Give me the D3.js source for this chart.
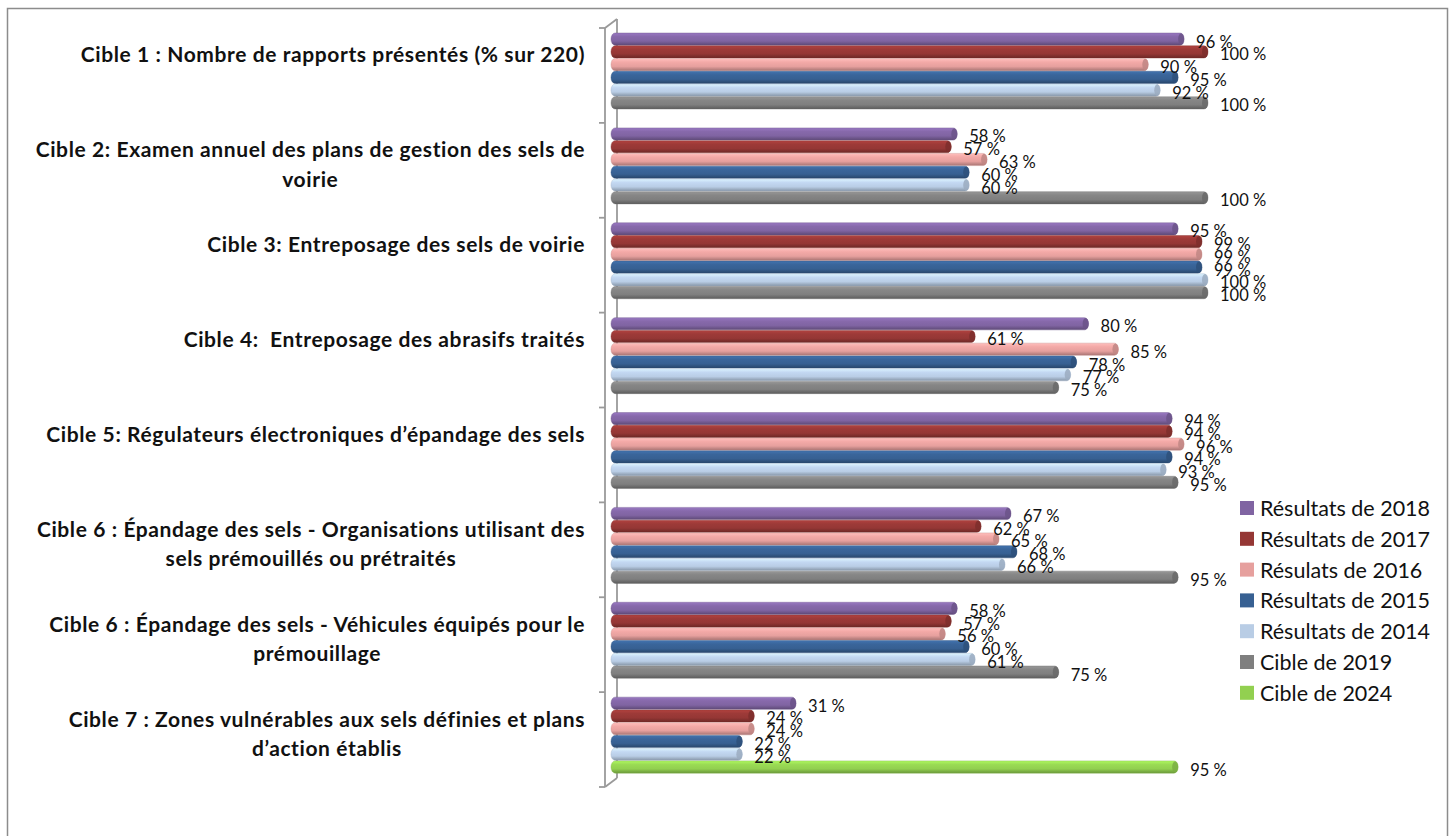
<!DOCTYPE html>
<html>
<head>
<meta charset="utf-8">
<script src="https://cdn.jsdelivr.net/npm/d3@7"></script>
<style>
  body { margin: 0; background: #fff; }
  svg text { font-family: Lato, "Open Sans", sans-serif; white-space: pre; }
</style>
</head>
<body>
<svg width="1455" height="836"></svg>
<script>
// Category labels (one entry per line of the wrapped label).
var categories = [
    ["Cible 1 : Nombre de rapports présentés (% sur 220)"],
    ["Cible 2: Examen annuel des plans de gestion des sels de", "voirie"],
    ["Cible 3: Entreposage des sels de voirie"],
    ["Cible 4:  Entreposage des abrasifs traités"],
    ["Cible 5: Régulateurs électroniques d’épandage des sels"],
    ["Cible 6 : Épandage des sels - Organisations utilisant des", "sels prémouillés ou prétraités"],
    ["Cible 6 : Épandage des sels - Véhicules équipés pour le", "prémouillage"],
    ["Cible 7 : Zones vulnérables aux sels définies et plans", "d’action établis"]
];

// Series values, in category order.
var results2018 = [96, 58, 95, 80, 94, 67, 58, 31];
var results2017 = [100, 57, 99, 61, 94, 62, 57, 24];
var results2016 = [90, 63, 99, 85, 96, 65, 56, 24];
var results2015 = [95, 60, 99, 78, 94, 68, 60, 22];
var results2014 = [92, 60, 100, 77, 93, 66, 61, 22];
var target2019 = [100, 100, 100, 75, 95, 95, 75, null];
var target2024 = [null, null, null, null, null, null, null, 95];

var seriesNames = ["Résultats de 2018", "Résultats de 2017", "Résulats de 2016",
    "Résultats de 2015", "Résultats de 2014", "Cible de 2019", "Cible de 2024"];
var seriesColors = ["#8064a2", "#953735", "#e6a09e", "#376092", "#b9cde5", "#7f7f7f", "#92d050"];
// 2019 and 2024 targets share the last bar slot.
var seriesSlots = [0, 1, 2, 3, 4, 5, 5];

var series = [results2018, results2017, results2016, results2015, results2014, target2019, target2024]
    .map(function (values, i) {
        return { name: seriesNames[i], color: seriesColors[i], slot: seriesSlots[i], values: values };
    });

var svg = d3.select("svg");
var defs = svg.append("defs");

// Outer chart border.
svg.append("rect")
    .attr("x", 7.5).attr("y", 8.5)
    .attr("width", 1440).attr("height", 840)
    .attr("fill", "none")
    .attr("stroke", "#8c8c8c")
    .attr("stroke-width", 1.5);

// Scales.
var x = d3.scaleLinear().domain([0, 100]).range([611, 1208]);
var y = d3.scaleBand().domain(d3.range(categories.length)).range([28, 787]);
var slot = d3.scaleBand().domain(d3.range(6)).range([5, 81]).paddingInner(0.04);

var depthX = 12, depthY = -9;

// Cylinder-like gradient for each series.
series.forEach(function (s, i) {
    var c = d3.color(s.color);
    var g = defs.append("linearGradient")
        .attr("id", "grad" + i)
        .attr("x1", 0).attr("y1", 0).attr("x2", 0).attr("y2", 1);
    g.append("stop").attr("offset", "0%").attr("stop-color", c.brighter(0.5));
    g.append("stop").attr("offset", "30%").attr("stop-color", c.brighter(0.15));
    g.append("stop").attr("offset", "65%").attr("stop-color", c);
    g.append("stop").attr("offset", "100%").attr("stop-color", c.darker(0.9));
});

// Axis wall (back line and depth edges).
var axis = svg.append("g").attr("stroke", "#9a9a9a").attr("stroke-width", 1.8).attr("fill", "none");
axis.append("line")
    .attr("x1", 605 + depthX).attr("y1", 28 + depthY)
    .attr("x2", 605 + depthX).attr("y2", 787 + depthY);
axis.append("line")
    .attr("x1", 605).attr("y1", 28).attr("x2", 605 + depthX).attr("y2", 28 + depthY);
axis.append("line")
    .attr("x1", 605).attr("y1", 787).attr("x2", 605 + depthX).attr("y2", 787 + depthY);

// Bars.
var barLayer = svg.append("g");
var labelLayer = svg.append("g")
    .attr("font-size", 16.5)
    .attr("fill", "#111");

series.forEach(function (s, i) {
    s.values.forEach(function (v, ci) {
        if (v == null) return;
        var by = y(ci) + slot(s.slot);
        var bh = slot.bandwidth();
        var c = d3.color(s.color);

        barLayer.append("rect")
            .attr("x", x(0))
            .attr("y", by)
            .attr("width", x(v) - x(0))
            .attr("height", bh)
            .attr("rx", 4).attr("ry", bh / 2)
            .attr("fill", "url(#grad" + i + ")")
            .attr("stroke", c.darker(0.4))
            .attr("stroke-opacity", 0.5)
            .attr("stroke-width", 0.8);

        // End cap of the cylinder.
        barLayer.append("ellipse")
            .attr("cx", x(v) - 3)
            .attr("cy", by + bh / 2)
            .attr("rx", 3)
            .attr("ry", bh / 2 - 0.3)
            .attr("fill", c.darker(0.5))
            .attr("opacity", 0.85);

        labelLayer.append("text")
            .attr("x", x(v) + 12)
            .attr("y", by + bh / 2 + 2.5)
            .attr("dominant-baseline", "central")
            .text(v + " %");
    });
});

// Front axis line with ticks.
var front = svg.append("g").attr("stroke", "#9a9a9a").attr("stroke-width", 1.8);
front.append("line").attr("x1", 605).attr("y1", 28).attr("x2", 605).attr("y2", 787);
front.selectAll(".tick")
    .data(d3.range(categories.length + 1))
    .enter().append("line")
    .attr("x1", 599).attr("x2", 605)
    .attr("y1", function (d) { return d === categories.length ? 787 : y(d); })
    .attr("y2", function (d) { return d === categories.length ? 787 : y(d); });

// Category labels, block right-aligned, lines centred.
var catLayer = svg.append("g")
    .attr("font-size", 21)
    .attr("font-weight", "bold")
    .attr("letter-spacing", 0.6)
    .attr("fill", "#111");

categories.forEach(function (lines, ci) {
    var g = catLayer.append("g");
    var texts = lines.map(function (line, li) {
        return g.append("text")
            .attr("y", y(ci) + y.bandwidth() / 2 - 21.5 + li * 29.5)
            .attr("dominant-baseline", "central")
            .attr("text-anchor", "middle")
            .text(line);
    });
    var maxW = d3.max(texts, function (t) { return t.node().getComputedTextLength(); });
    texts.forEach(function (t) { t.attr("x", 585 - maxW / 2); });
});

// Legend.
var legend = svg.append("g").attr("font-size", 21.5).attr("fill", "#111");
series.forEach(function (s, i) {
    var ly = 508 + i * 30.8;
    legend.append("rect")
        .attr("x", 1240).attr("y", ly - 7)
        .attr("width", 14).attr("height", 14)
        .attr("fill", s.color);
    legend.append("text")
        .attr("x", 1260).attr("y", ly)
        .attr("dominant-baseline", "central")
        .text(s.name);
});
</script>
</body>
</html>
